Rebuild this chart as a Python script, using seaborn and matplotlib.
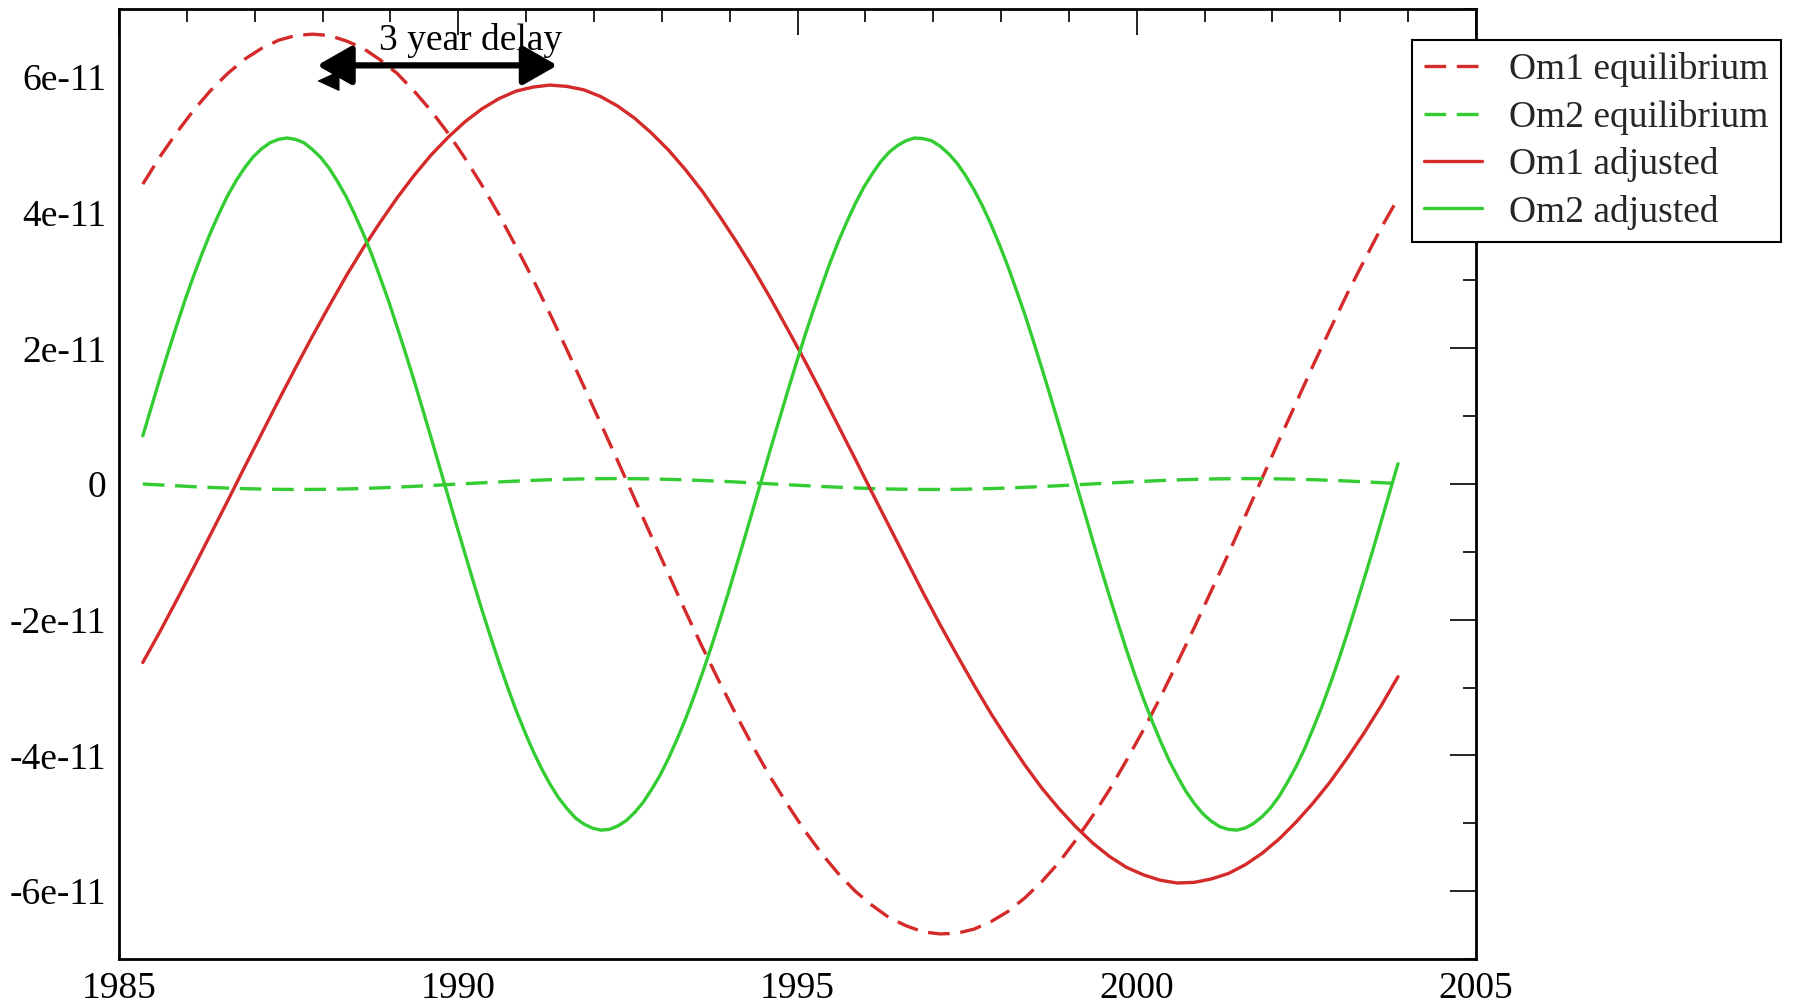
import numpy as np
import matplotlib
matplotlib.use("Agg")
import matplotlib.pyplot as plt
import seaborn as sns
from matplotlib.ticker import FixedLocator, FuncFormatter

# Sampling years: quarter-year steps for the slow modes, eighth-year for Om2
years = np.round(np.arange(1985.35, 2003.86, 0.25), 3)
years_fine = np.round(np.arange(1985.35, 2003.86, 0.125), 3)

# Series values in units of 1e-11
om1_equilibrium = [
    4.42, 4.82, 5.18, 5.51, 5.80, 6.05, 6.26, 6.42, 6.54, 6.61,
    6.63, 6.61, 6.53, 6.42, 6.25, 6.05, 5.79, 5.50, 5.17, 4.80,
    4.40, 3.97, 3.50, 3.02, 2.51, 1.98, 1.44, 0.89, 0.34, -0.22,
    -0.78, -1.33, -1.88, -2.41, -2.92, -3.41, -3.88, -4.32, -4.72, -5.10,
    -5.44, -5.74, -6.00, -6.21, -6.39, -6.51, -6.60, -6.63, -6.62, -6.56,
    -6.45, -6.30, -6.10, -5.86, -5.58, -5.25, -4.89, -4.50, -4.07, -3.62,
    -3.14, -2.63, -2.11, -1.57, -1.03, -0.47, 0.09, 0.65, 1.20, 1.75,
    2.28, 2.80, 3.29, 3.77, 4.21,
]
om2_equilibrium = [
    0.000, -0.013, -0.026, -0.039, -0.050, -0.060, -0.068, -0.074, -0.078, -0.080,
    -0.079, -0.077, -0.072, -0.065, -0.056, -0.046, -0.034, -0.022, -0.008, 0.005,
    0.018, 0.031, 0.043, 0.054, 0.063, 0.070, 0.076, 0.079, 0.080, 0.079,
    0.075, 0.069, 0.062, 0.052, 0.042, 0.030, 0.017, 0.003, -0.010, -0.023,
    -0.036, -0.047, -0.058, -0.066, -0.073, -0.077, -0.080, -0.080, -0.078, -0.073,
    -0.067, -0.058, -0.048, -0.037, -0.025, -0.012, 0.002, 0.015, 0.028, 0.040,
    0.051, 0.061, 0.069, 0.075, 0.078, 0.080, 0.079, 0.076, 0.071, 0.064,
    0.055, 0.045, 0.033, 0.020, 0.007,
]
om1_adjusted = [
    -2.63, -2.18, -1.71, -1.23, -0.74, -0.25, 0.25, 0.74, 1.23, 1.71,
    2.18, 2.63, 3.07, 3.48, 3.86, 4.22, 4.55, 4.85, 5.11, 5.34,
    5.53, 5.68, 5.79, 5.85, 5.88, 5.86, 5.81, 5.71, 5.57, 5.39,
    5.17, 4.92, 4.63, 4.31, 3.95, 3.57, 3.17, 2.74, 2.29, 1.83,
    1.35, 0.86, 0.37, -0.13, -0.62, -1.11, -1.60, -2.07, -2.52, -2.96,
    -3.38, -3.77, -4.14, -4.48, -4.78, -5.05, -5.29, -5.49, -5.65, -5.76,
    -5.84, -5.88, -5.87, -5.82, -5.74, -5.61, -5.44, -5.23, -4.98, -4.70,
    -4.39, -4.04, -3.67, -3.27, -2.84,
]
om2_adjusted = [
    0.71, 1.13, 1.55, 1.95, 2.34, 2.72, 3.07, 3.40, 3.71, 3.99,
    4.25, 4.47, 4.66, 4.82, 4.94, 5.03, 5.08, 5.10, 5.08, 5.03,
    4.93, 4.81, 4.65, 4.45, 4.23, 3.97, 3.69, 3.38, 3.04, 2.69,
    2.31, 1.92, 1.52, 1.10, 0.68, 0.25, -0.18, -0.61, -1.03, -1.45,
    -1.86, -2.25, -2.63, -2.99, -3.33, -3.64, -3.93, -4.19, -4.42, -4.62,
    -4.78, -4.92, -5.01, -5.07, -5.10, -5.09, -5.04, -4.96, -4.84, -4.69,
    -4.50, -4.29, -4.04, -3.76, -3.46, -3.13, -2.78, -2.41, -2.02, -1.62,
    -1.20, -0.78, -0.35, 0.08, 0.51, 0.93, 1.35, 1.76, 2.16, 2.54,
    2.90, 3.25, 3.57, 3.86, 4.13, 4.37, 4.57, 4.75, 4.89, 4.99,
    5.06, 5.10, 5.09, 5.06, 4.98, 4.87, 4.73, 4.55, 4.34, 4.10,
    3.83, 3.53, 3.21, 2.86, 2.50, 2.11, 1.71, 1.30, 0.88, 0.46,
    0.03, -0.40, -0.83, -1.25, -1.66, -2.06, -2.45, -2.82, -3.17, -3.49,
    -3.79, -4.07, -4.31, -4.53, -4.71, -4.86, -4.97, -5.05, -5.09, -5.10,
    -5.07, -5.00, -4.90, -4.77, -4.60, -4.39, -4.16, -3.90, -3.60, -3.29,
    -2.95, -2.59, -2.21, -1.81, -1.40, -0.99, -0.56, -0.13, 0.30,
]
UNIT = 1e-11

# Axis ticks
x_major = [1985, 1990, 1995, 2000, 2005]
x_minor = [y for y in range(1985, 2006) if y % 5]
y_major = [-6, -4, -2, 0, 2, 4, 6]
y_minor = [-7, -5, -3, -1, 1, 3, 5, 7]

# Delay annotation (peak of equilibrium -> peak of adjusted)
delay_label = "3 year delay"
delay_label_x, delay_label_y = 1990.18, 6.40
delay_start, delay_end, delay_level = 1987.92, 1991.46, 6.17

sns.set_theme(style="white")
plt.rcParams["font.family"] = ["Liberation Serif", "DejaVu Serif"]
FS = 27

fig = plt.figure(figsize=(17.93, 10.06), dpi=100)
fig.patch.set_facecolor("white")
ax = fig.add_axes([0.0664, 0.0467, 0.8232 - 0.0664, 0.991 - 0.0467])
ax.set_facecolor("white")

red = "#d42a2a"
green = "#33cc33"
dashed = (0, (6.5, 3.2))
series = [
    ("Om1 equilibrium", years, om1_equilibrium, red, dashed),
    ("Om2 equilibrium", years, om2_equilibrium, green, dashed),
    ("Om1 adjusted", years, om1_adjusted, red, "-"),
    ("Om2 adjusted", years_fine, om2_adjusted, green, "-"),
]
for label, xs, vals, color, ls in series:
    sns.lineplot(x=xs, y=np.asarray(vals) * UNIT, ax=ax, color=color,
                 linestyle=ls, linewidth=2.4, label=label)

ax.set_xlim(1985, 2005)
ax.set_ylim(-7 * UNIT, 7 * UNIT)
ax.xaxis.set_major_locator(FixedLocator(x_major))
ax.xaxis.set_minor_locator(FixedLocator(x_minor))
ax.yaxis.set_major_locator(FixedLocator([v * UNIT for v in y_major]))
ax.yaxis.set_minor_locator(FixedLocator([v * UNIT for v in y_minor]))
ax.yaxis.set_major_formatter(
    FuncFormatter(lambda v, _: "0" if abs(v) < 1e-15 else f"{v:.0e}"))
ax.set_xlabel("")
ax.set_ylabel("")

ax.tick_params(which="both", direction="in", top=True, right=True,
               color="#222222", width=1.4, labelsize=FS, labelcolor="black")
ax.tick_params(which="major", length=19, pad=9)
ax.tick_params(which="minor", length=9.5)
for sp in ax.spines.values():
    sp.set_color("black")
    sp.set_linewidth(2.0)
    sp.set_visible(True)

# Delay annotation
ax.text(delay_label_x, delay_label_y * UNIT, delay_label,
        ha="center", va="baseline", fontsize=FS, color="black")
ax.annotate("", xy=(delay_start, delay_level * UNIT),
            xytext=(delay_end, delay_level * UNIT),
            arrowprops=dict(arrowstyle="<|-|>,head_length=0.7,head_width=0.4",
                            mutation_scale=30, lw=4.5, color="black",
                            shrinkA=0, shrinkB=0))
ax.annotate("", xy=(delay_start, (delay_level - 0.23) * UNIT),
            xytext=(delay_start + 0.3, (delay_level - 0.23) * UNIT),
            arrowprops=dict(arrowstyle="-|>,head_length=0.48,head_width=0.22",
                            mutation_scale=30, lw=1.0, color="black",
                            shrinkA=0, shrinkB=0))

leg = ax.legend(loc="upper left", bbox_to_anchor=(0.7875, 0.9602),
                bbox_transform=fig.transFigure, borderaxespad=0,
                frameon=True, fancybox=False, edgecolor="black",
                framealpha=1, fontsize=FS, handlelength=1.55,
                handletextpad=0.7, labelspacing=0.33, borderpad=0.33)
leg.get_frame().set_linewidth(1.5)

fig.savefig("out.png", dpi=100, facecolor="white")
